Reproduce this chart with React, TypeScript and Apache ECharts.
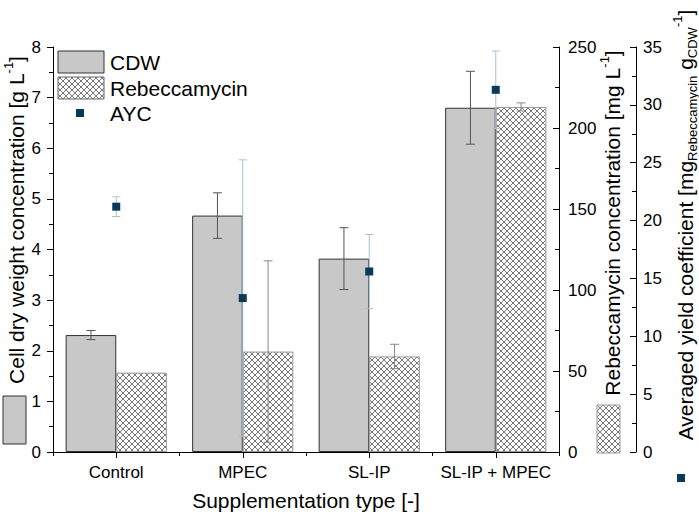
import React, { useEffect, useRef } from 'react';
import * as echarts from 'echarts';

const categories = ['Control', 'MPEC', 'SL-IP', 'SL-IP + MPEC'];
const cdwValues = [2.31, 4.67, 3.82, 6.8];
const cdwSd = [0.09, 0.45, 0.61, 0.72];
const rebValues = [49, 62, 59, 213];
const rebSd = [0, 56, 7.5, 2.5];
const aycValues = [21.2, 13.3, 15.6, 31.3];
const aycSd = [0.85, 11.95, 3.2, 3.35];

const cdwAxis = { min: 0, max: 8, interval: 1 };
const rebAxis = { min: 0, max: 250, interval: 50 };
const aycAxis = { min: 0, max: 35, interval: 5 };

const FONT = "'Liberation Sans', Arial, Helvetica, sans-serif";
const NAVY = '#0b3a58';

function makeHatch() {
  const s = 6;
  const c = document.createElement('canvas');
  c.width = s;
  c.height = s;
  const ctx = c.getContext('2d')!;
  ctx.fillStyle = '#ffffff';
  ctx.fillRect(0, 0, s, s);
  ctx.strokeStyle = '#555555';
  ctx.lineWidth = 0.8;
  ctx.beginPath();
  ctx.moveTo(-1, -1);
  ctx.lineTo(s + 1, s + 1);
  ctx.moveTo(s + 1, -1);
  ctx.lineTo(-1, s + 1);
  ctx.stroke();
  return c;
}

function errData(vals: number[], sds: number[]) {
  return vals
    .map((v, i) => [i, v - sds[i], v + sds[i], sds[i]])
    .filter((d) => d[3] > 0);
}

function errRender(offsetFrac: number, color: string, capW: number) {
  return (params: any, api: any) => {
    const idx = api.value(0);
    const lo = api.coord([idx, api.value(1)]);
    const hi = api.coord([idx, api.value(2)]);
    const band = api.size([1, 0])[0];
    const x = lo[0] + offsetFrac * band;
    const st = { stroke: color, lineWidth: 1 };
    return {
      type: 'group',
      children: [
        { type: 'line', shape: { x1: x, y1: lo[1], x2: x, y2: hi[1] }, style: st },
        { type: 'line', shape: { x1: x - capW / 2, y1: hi[1], x2: x + capW / 2, y2: hi[1] }, style: st },
        { type: 'line', shape: { x1: x - capW / 2, y1: lo[1], x2: x + capW / 2, y2: lo[1] }, style: st },
      ],
    };
  };
}

export default function App() {
  const ref = useRef<HTMLDivElement>(null);
  useEffect(() => {
    if (!ref.current) return;
    const chart = echarts.init(ref.current, undefined, { renderer: 'svg' });
    const hatch = makeHatch();
    const hatchFill: any = { image: hatch, repeat: 'repeat' };

    const richTitle = {
      a: { fontSize: 21, fontFamily: FONT, color: '#000', lineHeight: 28, verticalAlign: 'middle' },
      sup: { fontSize: 13, fontFamily: FONT, color: '#000', lineHeight: 14, verticalAlign: 'top' },
      sub: { fontSize: 13, fontFamily: FONT, color: '#000', lineHeight: 14, verticalAlign: 'bottom' },
    };

    const axisCommon = {
      type: 'value' as const,
      axisLine: { show: true, lineStyle: { color: '#000', width: 1 } },
      splitLine: { show: false },
      axisLabel: { color: '#000', fontSize: 17, fontFamily: FONT },
    };

    const option: any = {
      animation: false,
      backgroundColor: '#fff',
      grid: { left: 53, top: 47, right: 140, bottom: 61, containLabel: false },
      xAxis: [
        {
          type: 'category',
          data: categories,
          position: 'bottom',
          boundaryGap: true,
          axisLine: { show: true, lineStyle: { color: '#000', width: 1 } },
          axisTick: { show: true, alignWithLabel: true, length: 6, lineStyle: { color: '#000' } },
          axisLabel: { color: '#000', fontSize: 17, fontFamily: FONT, margin: 12, interval: 0 },
          splitLine: { show: false },
          name: 'Supplementation type [-]',
          nameLocation: 'middle',
          nameGap: 38,
          nameTextStyle: { color: '#000', fontSize: 21, fontFamily: FONT },
        },
        {
          type: 'category',
          data: categories,
          position: 'bottom',
          boundaryGap: true,
          axisLine: { show: false },
          axisTick: { show: true, alignWithLabel: false, interval: 0, length: 4, lineStyle: { color: '#000' } },
          axisLabel: { show: false },
          splitLine: { show: false },
        },
        {
          type: 'category',
          data: categories,
          position: 'top',
          boundaryGap: true,
          axisLine: { show: true, lineStyle: { color: '#000', width: 1 } },
          axisTick: { show: false },
          axisLabel: { show: false },
          splitLine: { show: false },
        },
      ],
      yAxis: [
        {
          ...axisCommon,
          ...cdwAxis,
          position: 'left',
          axisTick: { show: true, inside: false, length: 6, lineStyle: { color: '#000' } },
          minorTick: { show: true, splitNumber: 2, length: 4, lineStyle: { color: '#000' } },
          axisLabel: { ...axisCommon.axisLabel, margin: 12 },
        },
        {
          ...axisCommon,
          ...rebAxis,
          position: 'right',
          axisTick: { show: true, inside: true, length: 6, lineStyle: { color: '#000' } },
          minorTick: { show: true, splitNumber: 2, length: 4, lineStyle: { color: '#000' } },
          axisLabel: { ...axisCommon.axisLabel, margin: 9 },
        },
        {
          ...axisCommon,
          ...aycAxis,
          position: 'right',
          offset: 77,
          axisTick: { show: true, inside: true, length: 6, lineStyle: { color: '#000' } },
          minorTick: { show: true, splitNumber: 2, length: 4, lineStyle: { color: '#000' } },
          axisLabel: { ...axisCommon.axisLabel, margin: 7 },
        },
      ],
      series: [
        {
          name: 'CDW',
          type: 'bar',
          xAxisIndex: 0,
          yAxisIndex: 0,
          data: cdwValues,
          barGap: '0%',
          barCategoryGap: '20%',
          itemStyle: { color: '#c8c8c8', borderColor: '#333', borderWidth: 1 },
          z: 2,
        },
        {
          name: 'Rebeccamycin',
          type: 'bar',
          xAxisIndex: 0,
          yAxisIndex: 1,
          data: rebValues,
          barGap: '0%',
          barCategoryGap: '20%',
          itemStyle: { color: hatchFill, borderColor: '#999', borderWidth: 1 },
          z: 2,
        },
        {
          type: 'custom',
          xAxisIndex: 0,
          yAxisIndex: 0,
          data: errData(cdwValues, cdwSd),
          encode: { x: 0, y: [1, 2] },
          renderItem: errRender(-0.2, '#555', 9),
          z: 3,
        },
        {
          type: 'custom',
          xAxisIndex: 0,
          yAxisIndex: 1,
          data: errData(rebValues, rebSd),
          encode: { x: 0, y: [1, 2] },
          renderItem: errRender(0.2, '#888', 9),
          z: 3,
        },
        {
          type: 'custom',
          xAxisIndex: 0,
          yAxisIndex: 2,
          data: errData(aycValues, aycSd),
          encode: { x: 0, y: [1, 2] },
          renderItem: errRender(0, '#a6c2d4', 8),
          z: 4,
        },
        {
          name: 'AYC',
          type: 'scatter',
          xAxisIndex: 0,
          yAxisIndex: 2,
          data: aycValues,
          symbol: 'rect',
          symbolSize: 8,
          itemStyle: { color: NAVY, opacity: 1 },
          z: 5,
        },
      ],
      graphic: [
        { type: 'rect', shape: { x: 58, y: 51, width: 46, height: 22 }, style: { fill: '#c8c8c8', stroke: '#333', lineWidth: 1 }, z: 10 },
        { type: 'text', x: 110, y: 62, style: { text: 'CDW', fontSize: 21, fontFamily: FONT, fill: '#000', align: 'left', verticalAlign: 'middle' }, z: 10 },
        { type: 'rect', shape: { x: 58, y: 77, width: 46, height: 22 }, style: { fill: hatchFill, stroke: '#666', lineWidth: 1 }, z: 10 },
        { type: 'text', x: 110, y: 88, style: { text: 'Rebeccamycin', fontSize: 21, fontFamily: FONT, fill: '#000', align: 'left', verticalAlign: 'middle' }, z: 10 },
        { type: 'rect', shape: { x: 76, y: 109, width: 8, height: 8 }, style: { fill: NAVY }, z: 10 },
        { type: 'text', x: 110, y: 113, style: { text: 'AYC', fontSize: 21, fontFamily: FONT, fill: '#000', align: 'left', verticalAlign: 'middle' }, z: 10 },
        { type: 'rect', shape: { x: 3, y: 396, width: 23, height: 48 }, style: { fill: '#c8c8c8', stroke: '#333', lineWidth: 1 } },
        { type: 'rect', shape: { x: 597, y: 405, width: 23, height: 48 }, style: { fill: hatchFill, stroke: '#999', lineWidth: 1 } },
        { type: 'rect', shape: { x: 677, y: 474, width: 8, height: 8 }, style: { fill: NAVY } },
        {
          type: 'text',
          x: 16,
          y: 220,
          rotation: Math.PI / 2,
          style: {
            text: '{a|Cell dry weight concentration [g L}{sup|-1}{a|]}',
            rich: richTitle,
            align: 'center',
            verticalAlign: 'middle',
          },
        },
        {
          type: 'text',
          x: 612,
          y: 223,
          rotation: Math.PI / 2,
          style: {
            text: '{a|Rebeccamycin concentration [mg L}{sup|-1}{a|]}',
            rich: richTitle,
            align: 'center',
            verticalAlign: 'middle',
          },
        },
        {
          type: 'text',
          x: 685,
          y: 225,
          rotation: Math.PI / 2,
          style: {
            text: '{a|Averaged yield coefficient [mg}{sub|Rebeccamycin}{a| g}{sub|CDW}{sup|-1}{a|]}',
            rich: richTitle,
            align: 'center',
            verticalAlign: 'middle',
          },
        },
      ],
    };
    chart.setOption(option);
    return () => chart.dispose();
  }, []);
  return (
    <div
      ref={ref}
      style={{ position: 'fixed', left: 0, top: 0, width: 699, height: 516, background: '#fff' }}
    />
  );
}
